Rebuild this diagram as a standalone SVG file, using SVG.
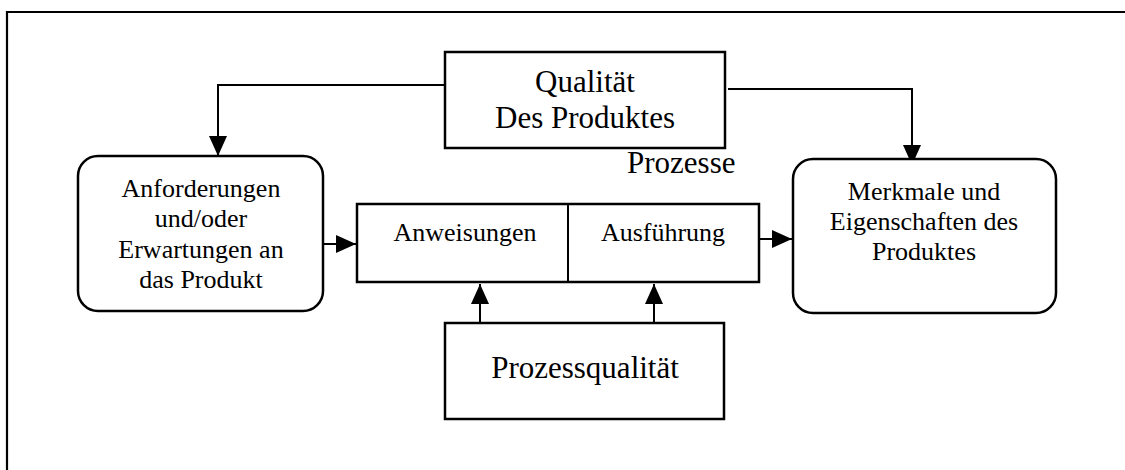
<svg xmlns="http://www.w3.org/2000/svg" width="1125" height="470" viewBox="0 0 1125 470">
  <style>
    .box { fill: #ffffff; stroke: #000000; stroke-width: 2.5; }
    .line { fill: none; stroke: #000000; stroke-width: 2; }
    .frame { fill: none; stroke: #000000; stroke-width: 2.2; }
    text { font-family: "Liberation Serif", "Times New Roman", serif; fill: #000000; }
    .big { font-size: 31px; }
    .mid { font-size: 26px; }
    .c { text-anchor: middle; }
  </style>
  <defs>
    <marker id="arrow" viewBox="0 0 20 18" refX="20" refY="9" markerWidth="20" markerHeight="18" markerUnits="userSpaceOnUse" orient="auto">
      <path d="M0,0 L20,9 L0,18 Z" fill="#000000"/>
    </marker>
  </defs>

  <rect width="1125" height="470" fill="#ffffff"/>

  <!-- outer frame: top and left edges -->
  <path class="frame" d="M7,470 L7,12 L1125,12"/>

  <g id="connectors">
    <path class="line" d="M445,85 L218,85 L218,156" marker-end="url(#arrow)"/>
    <path class="line" d="M728,89 L912,89 L912,165" marker-end="url(#arrow)"/>
    <path class="line" d="M323,244 L356,244" marker-end="url(#arrow)"/>
    <path class="line" d="M757,239 L792,239" marker-end="url(#arrow)"/>
    <path class="line" d="M480,323 L480,284" marker-end="url(#arrow)"/>
    <path class="line" d="M654,323 L654,284" marker-end="url(#arrow)"/>
  </g>

  <g id="produktqualitaet">
    <rect class="box" x="445" y="52" width="280" height="96"/>
    <text class="big c" x="585" y="92">Qualität</text>
    <text class="big c" x="585" y="128">Des Produktes</text>
  </g>

  <g id="prozesse-label">
    <text class="big" x="627" y="173">Prozesse</text>
  </g>

  <g id="anforderungen">
    <rect class="box" x="78" y="156" width="245" height="155" rx="20" ry="20"/>
    <text class="mid c" x="201" y="197">Anforderungen</text>
    <text class="mid c" x="201" y="227">und/oder</text>
    <text class="mid c" x="201" y="258">Erwartungen an</text>
    <text class="mid c" x="201" y="288">das Produkt</text>
  </g>

  <g id="prozess">
    <rect class="box" x="357" y="204" width="402" height="78"/>
    <line class="line" x1="568" y1="204" x2="568" y2="282" stroke-width="2.5"/>
    <text class="mid c" x="465" y="241">Anweisungen</text>
    <text class="mid c" x="663" y="241">Ausführung</text>
  </g>

  <g id="merkmale">
    <rect class="box" x="793" y="159" width="263" height="154" rx="20" ry="20"/>
    <text class="mid c" x="924" y="200">Merkmale und</text>
    <text class="mid c" x="924" y="230">Eigenschaften des</text>
    <text class="mid c" x="924" y="260">Produktes</text>
  </g>

  <g id="prozessqualitaet">
    <rect class="box" x="445" y="323" width="279" height="96"/>
    <text class="big c" x="585" y="378">Prozessqualität</text>
  </g>
</svg>
